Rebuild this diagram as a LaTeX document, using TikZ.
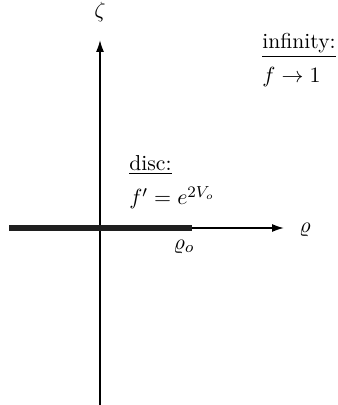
\documentclass[tikz,border=0pt]{standalone}
\usetikzlibrary{arrows.meta}
\begin{document}
\begin{tikzpicture}[x=0.5pt,y=-0.5pt,
  axis/.style={line width=0.8pt,-{Latex[length=6pt,width=4pt]}},
  lbl/.style={inner sep=0pt,anchor=base west,font=\fontsize{10.8}{13}\selectfont},
  sym/.style={font=\fontsize{10.8}{13}\selectfont}]
\useasboundingbox (0,0) rectangle (337,405);
\coordinate (vbot) at (100,405);
\coordinate (vtop) at (100,40);
\coordinate (hleft) at (9,228);
\coordinate (hright) at (284,228);
\coordinate (dend) at (192,228);
\draw[axis] (vbot) -- (vtop);
\draw[axis] (hleft) -- (hright);
\draw[line width=3pt,black!88] (hleft) -- (dend);
\node[sym] (zeta) at (100,12) {$\zeta$};
\node[sym] (rho) at (305,230) {$\varrho$};
\node[sym] (rhoo) at (184,247) {$\varrho_o$};
\node[lbl] (disc) at (129,170) {\underline{disc:}};
\node[lbl] (fp) at (129,205) {$f'=e^{2V_o}$};
\node[lbl] (inf) at (262,49) {\underline{infinity:}};
\node[lbl] (f1) at (262,83) {$f\rightarrow 1$};
\end{tikzpicture}
\end{document}
